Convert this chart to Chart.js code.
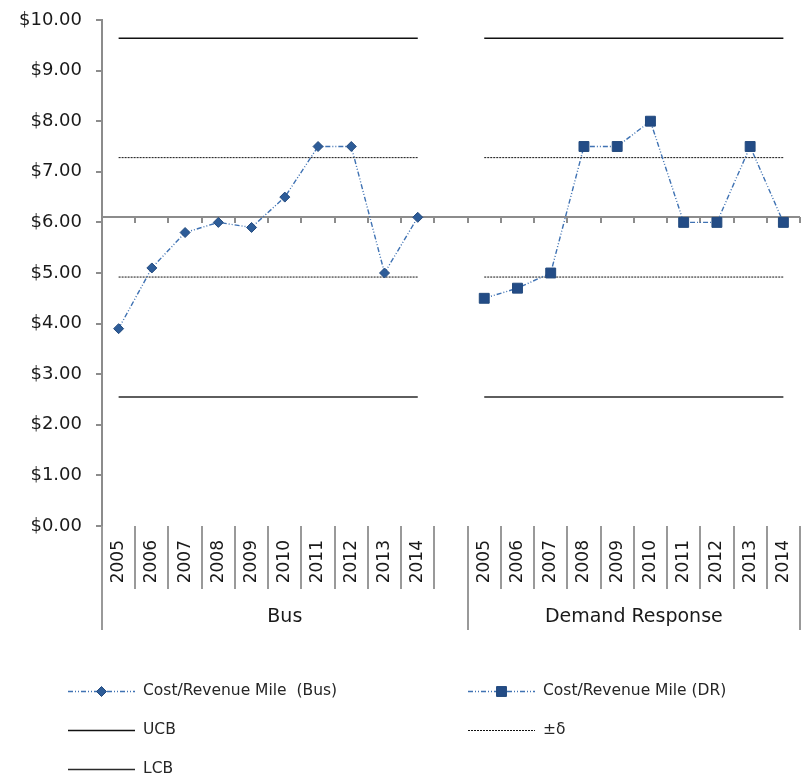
<!DOCTYPE html>
<html><head><meta charset="utf-8">
<style>html,body{margin:0;padding:0;background:#fff}canvas{display:block}</style>
<script src="https://cdn.jsdelivr.net/npm/chart.js@4/dist/chart.umd.min.js"></script>
</head><body>
<canvas id="c" width="808" height="775"></canvas>
<script>
// ---- data ----
const years = ['2005','2006','2007','2008','2009','2010','2011','2012','2013','2014'];
const groups = ['Bus', 'Demand Response'];
const busCost = [3.9, 5.1, 5.8, 6.0, 5.9, 6.5, 7.5, 7.5, 5.0, 6.1];
const drCost  = [4.5, 4.7, 5.0, 7.5, 7.5, 8.0, 6.0, 6.0, 7.5, 6.0];
const ucbLevel = 9.64;
const plusSigmaLevel = 7.28;
const minusSigmaLevel = 4.92;
const lcbLevel = 2.55;
const meanLevel = 6.1;          // horizontal axis crosses here
const yTickValues = [0,1,2,3,4,5,6,7,8,9,10];

// ---- build library tables from the arrays ----
const categories = [...years, '', ...years];
const gap = [null];
const none = years.map(() => null);
const busSeries = [...busCost, ...gap, ...none];
const drSeries = [...none, ...gap, ...drCost];
const level = v => [...years.map(() => v), null, ...years.map(() => v)];

const FONT = '"DejaVu Sans", sans-serif';
const TXT = '#1a1a1a';
const AXIS = '#8c8c8c';
const dashDot = [5, 2, 1, 2, 1, 2];

const extras = {
  id: 'extras',
  beforeDatasetsDraw(chart) {
    const {ctx, chartArea: a, scales: {y}} = chart;
    const n = categories.length;
    const w = (a.right - a.left) / n;
    const yy = Math.round(y.getPixelForValue(meanLevel));
    ctx.save();
    ctx.strokeStyle = AXIS; ctx.lineWidth = 2;
    ctx.beginPath(); ctx.moveTo(a.left, yy); ctx.lineTo(a.right, yy); ctx.stroke();
    for (let i = 1; i <= n; i++) {
      const x = Math.round(a.left + i * w);
      ctx.beginPath(); ctx.moveTo(x, yy); ctx.lineTo(x, yy + 6); ctx.stroke();
    }
    ctx.restore();
  },
  afterDraw(chart) {
    const {ctx, chartArea: a} = chart;
    const n = categories.length;
    const w = (a.right - a.left) / n;
    ctx.save();
    ctx.strokeStyle = '#999'; ctx.lineWidth = 2;
    const tall = [0, years.length + 1, n];
    for (let i = 0; i <= n; i++) {
      const x = Math.round(a.left + i * w);
      ctx.beginPath(); ctx.moveTo(x, a.bottom); ctx.lineTo(x, tall.includes(i) ? a.bottom + 104 : a.bottom + 63); ctx.stroke();
    }
    // group labels
    ctx.fillStyle = TXT; ctx.font = '19px ' + FONT; ctx.textAlign = 'center'; ctx.textBaseline = 'middle';
    const g1 = (a.left + (a.left + (years.length + 1) * w)) / 2;
    const g2 = ((a.left + (years.length + 1) * w) + a.right) / 2;
    ctx.fillText(groups[0], g1, a.bottom + 91);
    ctx.fillText(groups[1], g2, a.bottom + 91);

    // legend
    const ds = chart.data.datasets;
    const items = [
      {d: ds[0], x: 68, y: 691},
      {d: ds[1], x: 468, y: 691},
      {d: ds[2], x: 68, y: 730},
      {d: ds[3], x: 468, y: 730},
      {d: ds[5], x: 68, y: 769}
    ];
    ctx.font = '15.5px ' + FONT; ctx.textAlign = 'left';
    items.forEach(it => {
      const d = it.d;
      ctx.save();
      ctx.strokeStyle = d.borderColor; ctx.lineWidth = d.borderWidth;
      ctx.setLineDash(d.borderDash || []);
      ctx.beginPath(); ctx.moveTo(it.x, it.y + 0.5); ctx.lineTo(it.x + 67, it.y + 0.5); ctx.stroke();
      ctx.restore();
      if (d.pointRadius > 0) {
        ctx.save();
        ctx.fillStyle = d.pointBackgroundColor; ctx.strokeStyle = d.pointBorderColor; ctx.lineWidth = d.pointBorderWidth;
        Chart.helpers.drawPoint(ctx, {pointStyle: d.pointStyle, radius: d.pointRadius, borderWidth: d.pointBorderWidth, rotation: 0}, it.x + 33.5, it.y + 0.5);
        ctx.restore();
      }
      ctx.fillStyle = '#262626';
      ctx.fillText(d.label, it.x + 75, it.y);
    });
    ctx.restore();
  }
};

new Chart(document.getElementById('c'), {
  type: 'line',
  data: {
    labels: categories,
    datasets: [
      {label: 'Cost/Revenue Mile  (Bus)', data: busSeries, borderColor: '#3f72b3', borderWidth: 1.4, borderDash: dashDot,
       pointStyle: 'rectRot', pointRadius: 5, pointBackgroundColor: '#2d5c98', pointBorderColor: '#234a7e', pointBorderWidth: 1, spanGaps: false, tension: 0},
      {label: 'Cost/Revenue Mile (DR)', data: drSeries, borderColor: '#3f72b3', borderWidth: 1.4, borderDash: dashDot,
       pointStyle: 'rect', pointRadius: 7, pointBackgroundColor: '#234c86', pointBorderColor: '#234a7e', pointBorderWidth: 1, spanGaps: false, tension: 0},
      {label: 'UCB', data: level(ucbLevel), borderColor: '#111', borderWidth: 1.4, pointRadius: 0, spanGaps: false},
      {label: '\u00b1\u03b4', data: level(plusSigmaLevel), borderColor: '#111', borderWidth: 1, borderDash: [2, 1], pointRadius: 0, spanGaps: false},
      {label: '\u00b1\u03b4 (lower)', data: level(minusSigmaLevel), borderColor: '#111', borderWidth: 1, borderDash: [2, 1], pointRadius: 0, spanGaps: false},
      {label: 'LCB', data: level(lcbLevel), borderColor: '#2a2a2a', borderWidth: 1.4, pointRadius: 0, spanGaps: false}
    ]
  },
  options: {
    responsive: false, animation: false, devicePixelRatio: 1,
    layout: {padding: {top: 20, right: 4, left: 0, bottom: 0}},
    plugins: {legend: {display: false}, tooltip: {enabled: false}},
    elements: {line: {fill: false}},
    scales: {
      x: {
        type: 'category', offset: true,
        grid: {display: false, drawTicks: false}, border: {display: false},
        ticks: {autoSkip: false, minRotation: 90, maxRotation: 90, padding: 14, color: TXT, font: {family: FONT, size: 17}},
        afterFit(s) { s.height = 249; s.paddingLeft = 0; s.paddingRight = 0; }
      },
      y: {
        min: 0, max: 10,
        afterBuildTicks(s) { s.ticks = yTickValues.map(v => ({value: v})); },
        ticks: {callback: v => '$' + Number(v).toFixed(2), padding: 14, color: TXT, font: {family: FONT, size: 18}},
        grid: {drawOnChartArea: false, tickLength: 6, color: AXIS, lineWidth: 2},
        border: {color: AXIS, width: 2},
        afterFit(s) { s.width = 102; s.paddingTop = 0; s.paddingBottom = 0; }
      }
    }
  },
  plugins: [extras]
});
</script>
</body></html>
